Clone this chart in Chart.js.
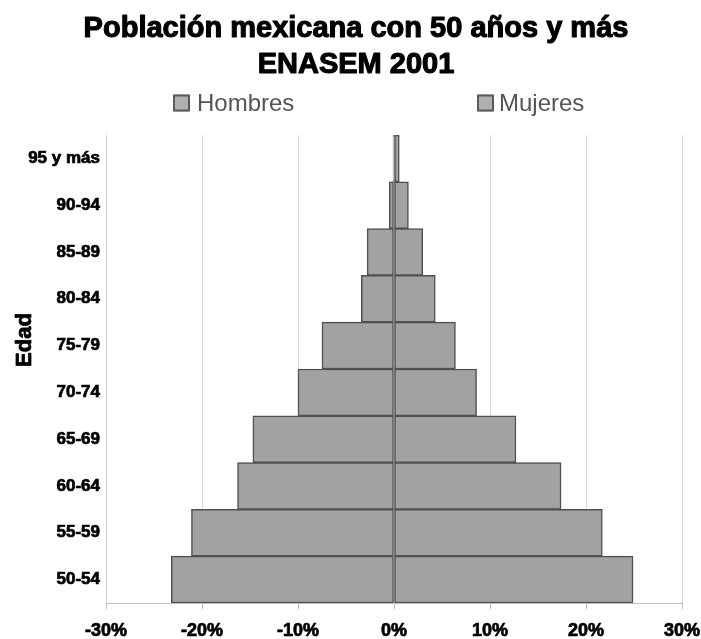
<!DOCTYPE html>
<html><head><meta charset="utf-8">
<script src="https://cdn.jsdelivr.net/npm/chart.js@4"></script>
<style>html,body{margin:0;padding:0;background:#fff}#wrap{width:701px;height:639px;position:relative}</style>
</head><body><div id="wrap"><canvas id="c" width="701" height="639"></canvas></div>
<script>
const categories = ['50-54','55-59','60-64','65-69','70-74','75-79','80-84','85-89','90-94','95 y más'];
const hombres = [-23.2,-21.1,-16.3,-14.7,-10.0,-7.5,-3.4,-2.8,-0.5,-0.1];
const mujeres = [24.9,21.7,17.4,12.7,8.6,6.4,4.3,3.0,1.5,0.55];
const xTicks = [-30,-20,-10,0,10,20,30];
const titleLines = ['Población mexicana con 50 años y más','ENASEM 2001'];
const seriesNames = ['Hombres','Mujeres'];
const yTitle = 'Edad';

const FONT = "'Liberation Sans', Arial, sans-serif";
const BAR_FILL = '#a2a2a2';
const BAR_EDGE = '#4f4f4f';

const extras = {
  id: 'extras',
  afterDraw(chart) {
    const ctx = chart.ctx;
    ctx.save();
    // title
    ctx.fillStyle = '#000';
    ctx.strokeStyle = '#000';
    ctx.lineWidth = 1.1;
    ctx.lineJoin = 'round';
    ctx.font = 'bold 29px ' + FONT;
    ctx.textAlign = 'center';
    ctx.textBaseline = 'middle';
    titleLines.forEach((t, i) => {
      ctx.fillText(t, 356, 29 + i * 36);
      ctx.strokeText(t, 356, 29 + i * 36);
    });
    // legend
    const items = [{x: 173, tx: 197}, {x: 477, tx: 499}];
    const ly = 103;
    chart.data.datasets.forEach((ds, i) => {
      const it = items[i];
      ctx.fillStyle = '#b0b0b0';
      ctx.fillRect(it.x, ly - 8.5, 17, 17);
      ctx.strokeStyle = '#5a5a5a';
      ctx.lineWidth = 2;
      ctx.strokeRect(it.x + 1, ly - 7.5, 15, 15);
      ctx.fillStyle = '#555';
      ctx.font = '24px ' + FONT;
      ctx.textBaseline = 'middle';
      ctx.textAlign = 'left';
      ctx.fillText(ds.label, it.tx, ly + 1);
    });
    // y axis title
    ctx.translate(25, 340);
    ctx.rotate(-Math.PI / 2);
    ctx.font = 'bold 22px ' + FONT;
    ctx.fillStyle = '#000';
    ctx.strokeStyle = '#000';
    ctx.lineWidth = 0.8;
    ctx.textAlign = 'center';
    ctx.textBaseline = 'middle';
    ctx.fillText(yTitle, 0, 0);
    ctx.strokeText(yTitle, 0, 0);
    ctx.restore();
  }
};

new Chart(document.getElementById('c'), {
  type: 'bar',
  data: {
    labels: categories,
    datasets: [
      {label: seriesNames[0], data: hombres, backgroundColor: BAR_FILL, borderColor: BAR_EDGE, borderWidth: 1.5, borderSkipped: false},
      {label: seriesNames[1], data: mujeres, backgroundColor: BAR_FILL, borderColor: BAR_EDGE, borderWidth: 1.5, borderSkipped: false}
    ]
  },
  options: {
    indexAxis: 'y',
    responsive: false,
    animation: false,
    devicePixelRatio: 1,
    barPercentage: 1,
    categoryPercentage: 1,
    layout: {padding: {left: 0, right: 19, top: 135, bottom: 0}},
    plugins: {
      legend: {display: false},
      tooltip: {enabled: false},
      title: {display: false}
    },
    scales: {
      x: {
        type: 'linear',
        stacked: true,
        min: -30, max: 30,
        afterBuildTicks: s => { s.ticks = xTicks.map(v => ({value: v})); },
        afterFit: s => { s.height = 36; s.paddingLeft = 0; s.paddingRight = 0; },
        ticks: {
          callback: v => v + '%',
          color: '#000',
          textStrokeColor: '#000',
          textStrokeWidth: 0.7,
          font: {family: FONT, size: 18, weight: 'bold', lineHeight: 1},
          padding: 13,
          maxRotation: 0
        },
        grid: {color: '#d8d8d8', tickLength: 6, tickColor: '#c0c0c0', lineWidth: 1},
        border: {color: '#c0c0c0'}
      },
      y: {
        type: 'category',
        stacked: true,
        reverse: true,
        afterFit: s => { s.width = 106; s.paddingTop = 0; s.paddingBottom = 0; },
        ticks: {
          color: '#000',
          textStrokeColor: '#000',
          textStrokeWidth: 0.7,
          font: {family: FONT, size: 17, weight: 'bold'},
          padding: 6
        },
        grid: {display: false, drawTicks: false},
        border: {color: '#cfcfcf'}
      }
    }
  },
  plugins: [extras]
});
</script>
</body></html>
